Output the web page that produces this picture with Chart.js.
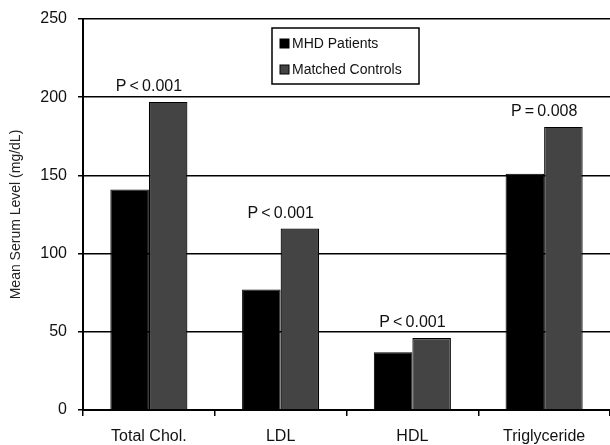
<!DOCTYPE html>
<html>
<head>
<meta charset="utf-8">
<script src="https://cdn.jsdelivr.net/npm/chart.js@4.4.0/dist/chart.umd.min.js"></script>
<style>
  html, body { margin: 0; padding: 0; background: #fff; }
  #wrap { width: 610px; height: 445px; }
</style>
</head>
<body>
<div id="wrap"><canvas id="lipidChart" width="610" height="445"></canvas></div>
<script>
// lipid levels: MHD patients vs matched controls
const categories = ['Total Chol.', 'LDL', 'HDL', 'Triglyceride'];
const mhdPatients = [141, 77, 37, 151];
const matchedControls = [197, 116, 46, 181];
const pValues = ['P\u2009<\u20090.001', 'P\u2009<\u20090.001', 'P\u2009<\u20090.001', 'P\u2009=\u20090.008'];
const yTicks = [0, 50, 100, 150, 200, 250];

const FONT = '"Liberation Sans", Arial, sans-serif';

// p-value text over each pair of bars
const pLabels = {
    id: 'pLabels',
    afterDatasetsDraw(chart) {
        const {ctx, scales: {x, y}} = chart;
        ctx.save();
        ctx.font = '16px ' + FONT;
        ctx.fillStyle = '#111';
        ctx.textAlign = 'center';
        ctx.textBaseline = 'alphabetic';
        categories.forEach((c, i) => {
            const top = y.getPixelForValue(Math.max(mhdPatients[i], matchedControls[i]));
            ctx.fillText(pValues[i], x.getPixelForValue(i), top - 11);
        });
        ctx.restore();
    }
};

// boxed legend inside the plot
const boxLegend = {
    id: 'boxLegend',
    afterDraw(chart) {
        const ctx = chart.ctx;
        const bx = 272, by = 28, bw = 147, bh = 56;
        ctx.save();
        ctx.fillStyle = '#fff';
        ctx.fillRect(bx, by, bw, bh);
        ctx.strokeStyle = '#000';
        ctx.lineWidth = 1.5;
        ctx.strokeRect(bx, by, bw, bh);
        ctx.font = '14px ' + FONT;
        ctx.textBaseline = 'middle';
        chart.data.datasets.forEach((ds, i) => {
            const cy = by + 15 + i * 26;
            ctx.fillStyle = ds.backgroundColor;
            ctx.fillRect(bx + 8, cy - 4, 9, 9);
            ctx.strokeStyle = '#000';
            ctx.lineWidth = 1;
            ctx.strokeRect(bx + 8, cy - 4, 9, 9);
            ctx.fillStyle = '#111';
            ctx.fillText(ds.label, bx + 20, cy + 1);
        });
        ctx.restore();
    }
};

new Chart(document.getElementById('lipidChart'), {
    type: 'bar',
    data: {
        labels: categories,
        datasets: [
            {
                label: 'MHD Patients',
                data: mhdPatients,
                backgroundColor: '#000000',
                borderColor: '#000000',
                borderWidth: 1,
                categoryPercentage: 0.585,
                barPercentage: 1.0
            },
            {
                label: 'Matched Controls',
                data: matchedControls,
                backgroundColor: '#444444',
                borderColor: '#000000',
                borderWidth: 1.2,
                categoryPercentage: 0.585,
                barPercentage: 1.0
            }
        ]
    },
    options: {
        responsive: false,
        animation: false,
        devicePixelRatio: 1,
        layout: { padding: { top: 11, right: 0, left: 0, bottom: 0 } },
        plugins: {
            legend: { display: false },
            tooltip: { enabled: false }
        },
        scales: {
            x: {
                offset: true,
                grid: {
                    offset: true,
                    drawOnChartArea: false,
                    color: '#000',
                    lineWidth: 1.5,
                    tickLength: 6
                },
                border: { display: true, color: '#000', width: 2 },
                ticks: {
                    color: '#111',
                    font: { family: FONT, size: 16 },
                    padding: 11,
                    maxRotation: 0
                },
                afterFit(scale) { scale.height = 35; }
            },
            y: {
                min: 0,
                max: 250,
                afterBuildTicks(scale) { scale.ticks = yTicks.map(v => ({value: v})); },
                grid: {
                    color: '#000',
                    lineWidth: 1.5,
                    tickLength: 5
                },
                border: { display: true, color: '#000', width: 2 },
                ticks: {
                    color: '#111',
                    font: { family: FONT, size: 16, lineHeight: 1 },
                    padding: 11
                },
                title: {
                    display: true,
                    text: 'Mean Serum Level (mg/dL)',
                    color: '#222',
                    font: { family: FONT, size: 14 },
                    padding: { top: 8, bottom: 0 }
                },
                afterFit(scale) { scale.width = 83; }
            }
        }
    },
    plugins: [pLabels, boxLegend]
});
</script>
</body>
</html>
